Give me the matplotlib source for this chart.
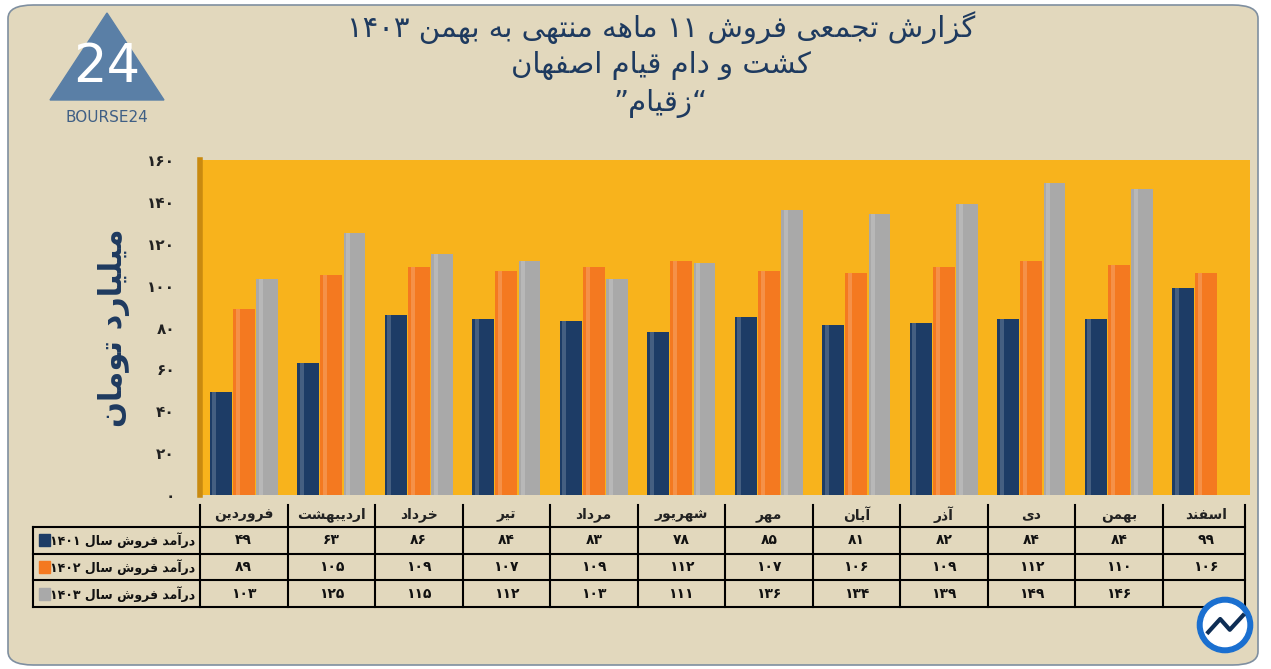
import matplotlib
matplotlib.use('Agg')
import matplotlib.pyplot as plt
from matplotlib.patches import FancyBboxPatch, Polygon, Circle, Rectangle

months = ['فروردین', 'اردیبهشت', 'خرداد', 'تیر', 'مرداد', 'شهریور',
          'مهر', 'آبان', 'آذر', 'دی', 'بهمن', 'اسفند']
sales_1401 = [49, 63, 86, 84, 83, 78, 85, 81, 82, 84, 84, 99]
sales_1402 = [89, 105, 109, 107, 109, 112, 107, 106, 109, 112, 110, 106]
sales_1403 = [103, 125, 115, 112, 103, 111, 136, 134, 139, 149, 146, None]
row_labels = ['درآمد فروش سال ۱۴۰۱', 'درآمد فروش سال ۱۴۰۲', 'درآمد فروش سال ۱۴۰۳']
y_ticks = [0, 20, 40, 60, 80, 100, 120, 140, 160]
title_lines = ['گزارش تجمعی فروش ۱۱ ماهه منتهی به بهمن ۱۴۰۳', 'کشت و دام قیام اصفهان', '“زقیام”']
y_label = 'میلیارد تومان'

# minimal arabic shaping: (isolated, final, initial, medial)
FORMS = {
    'ا': (0xFE8D, 0xFE8E), 'آ': (0xFE81, 0xFE82),
    'ب': (0xFE8F, 0xFE90, 0xFE91, 0xFE92), 'پ': (0xFB56, 0xFB57, 0xFB58, 0xFB59),
    'ت': (0xFE95, 0xFE96, 0xFE97, 0xFE98), 'ث': (0xFE99, 0xFE9A, 0xFE9B, 0xFE9C),
    'ج': (0xFE9D, 0xFE9E, 0xFE9F, 0xFEA0), 'چ': (0xFB7A, 0xFB7B, 0xFB7C, 0xFB7D),
    'ح': (0xFEA1, 0xFEA2, 0xFEA3, 0xFEA4), 'خ': (0xFEA5, 0xFEA6, 0xFEA7, 0xFEA8),
    'د': (0xFEA9, 0xFEAA), 'ذ': (0xFEAB, 0xFEAC), 'ر': (0xFEAD, 0xFEAE),
    'ز': (0xFEAF, 0xFEB0), 'ژ': (0xFB8A, 0xFB8B),
    'س': (0xFEB1, 0xFEB2, 0xFEB3, 0xFEB4), 'ش': (0xFEB5, 0xFEB6, 0xFEB7, 0xFEB8),
    'ص': (0xFEB9, 0xFEBA, 0xFEBB, 0xFEBC), 'ض': (0xFEBD, 0xFEBE, 0xFEBF, 0xFEC0),
    'ط': (0xFEC1, 0xFEC2, 0xFEC3, 0xFEC4), 'ظ': (0xFEC5, 0xFEC6, 0xFEC7, 0xFEC8),
    'ع': (0xFEC9, 0xFECA, 0xFECB, 0xFECC), 'غ': (0xFECD, 0xFECE, 0xFECF, 0xFED0),
    'ف': (0xFED1, 0xFED2, 0xFED3, 0xFED4), 'ق': (0xFED5, 0xFED6, 0xFED7, 0xFED8),
    'ک': (0xFB8E, 0xFB8F, 0xFB90, 0xFB91), 'گ': (0xFB92, 0xFB93, 0xFB94, 0xFB95),
    'ل': (0xFEDD, 0xFEDE, 0xFEDF, 0xFEE0), 'م': (0xFEE1, 0xFEE2, 0xFEE3, 0xFEE4),
    'ن': (0xFEE5, 0xFEE6, 0xFEE7, 0xFEE8), 'و': (0xFEED, 0xFEEE),
    'ه': (0xFEE9, 0xFEEA, 0xFEEB, 0xFEEC), 'ی': (0xFBFC, 0xFBFD, 0xFBFE, 0xFBFF),
}


def fa(text):
    out = []
    for i, c in enumerate(text):
        if c not in FORMS:
            out.append(c)
            continue
        prev = text[i - 1] if i > 0 else ''
        nxt = text[i + 1] if i + 1 < len(text) else ''
        pj = prev in FORMS and len(FORMS[prev]) == 4
        nj = len(FORMS[c]) == 4 and nxt in FORMS
        f = FORMS[c]
        if pj and nj:
            out.append(chr(f[3]))
        elif pj:
            out.append(chr(f[1]))
        elif nj:
            out.append(chr(f[2]))
        else:
            out.append(chr(f[0]))
    s = ''.join(out)[::-1]
    # keep digit runs left-to-right
    res, run = [], []
    for c in s:
        if c.isdigit():
            run.append(c)
        else:
            res.extend(run[::-1]); run = []
            res.append(c)
    res.extend(run[::-1])
    return ''.join(res)


def fdig(n):
    return str(n).translate(str.maketrans('0123456789', '۰۱۲۳۴۵۶۷۸۹'))


W, H = 1271, 669
fig = plt.figure(figsize=(W / 100, H / 100), dpi=100)
fig.patch.set_facecolor('white')
bg = FancyBboxPatch((8 / W, 4 / H), 1250 / W, 660 / H, boxstyle='round,pad=0,rounding_size=0.02',
                    transform=fig.transFigure, facecolor='#e2d8bd', edgecolor='#7f8fa0', lw=1.2,
                    zorder=-10)
fig.patches.append(bg)

navy, orange, grey = '#1d3c66', '#f47920', '#a9a9a9'
text_col = '#1e3a5f'

# title
for i, line in enumerate(title_lines):
    fig.text(0.52, 1 - (28 + i * 38) / H, fa(line), ha='center', va='center', fontsize=21,
             color=text_col, family='DejaVu Sans')

# logo
logo = fig.add_axes([40 / W, 1 - 130 / H, 135 / W, 125 / H])
logo.set_xlim(0, 135); logo.set_ylim(125, 0); logo.axis('off')
logo.add_patch(Polygon([[67, 8], [10, 95], [124, 95]], closed=True, color='#5a7fa6'))
logo.text(67, 62, '24', ha='center', va='center', fontsize=38, color='white')
logo.text(67, 112, 'BOURSE24', ha='center', va='center', fontsize=11, color='#3f5f85')

# chart
x0, x1, yb, yt = 200, 1250, 495, 160
ax = fig.add_axes([x0 / W, 1 - yb / H, (x1 - x0) / W, (yb - yt) / H])
ax.set_facecolor('#f8b31c')
ax.set_xlim(-0.5, len(months) - 0.5)
ax.set_ylim(0, 160)
bw = 0.25
series = [(sales_1401, navy, -0.265), (sales_1402, orange, 0.0), (sales_1403, grey, 0.265)]
for vals, col, off in series:
    xs = [i + off for i, v in enumerate(vals) if v is not None]
    vs = [v for v in vals if v is not None]
    ax.bar(xs, vs, width=bw, color=col, edgecolor='none', zorder=3)
    ax.bar([x - bw * 0.28 for x in xs], vs, width=bw * 0.18, color='white', alpha=0.18,
           edgecolor='none', zorder=4)
ax.set_xticks([])
ax.set_yticks(y_ticks)
ax.set_yticklabels([fdig(t) for t in y_ticks], fontsize=11, fontweight='bold', color='#222222')
ax.tick_params(axis='y', length=0, pad=18)
for s in ax.spines.values():
    s.set_visible(False)
ax.spines['left'].set_visible(True)
ax.spines['left'].set_color('#c98a10'); ax.spines['left'].set_linewidth(4)
ax.set_ylabel(fa(y_label), fontsize=22, fontweight='bold', color=text_col, labelpad=12)

# table
tax = fig.add_axes([x0 / W, 1 - 607 / H, (x1 - x0) / W, 107 / H])
tax.set_xlim(-0.5, len(months) - 0.5)
tax.set_ylim(4, 0)
tax.axis('off')
lx = -0.5 - 167 / ((x1 - x0) / len(months))
right = len(months) - 0.5 - 5 / ((x1 - x0) / len(months))
kw = dict(color='black', lw=1.5, clip_on=False)
for r in range(1, 5):
    tax.plot([lx, right], [r, r], **kw)
tax.plot([lx, lx], [1, 4], **kw)
for c in range(len(months) + 1):
    xc = min(c - 0.5, right)
    tax.plot([xc, xc], [0.2, 4], **kw)
for i, m in enumerate(months):
    tax.text(i, 0.55, fa(m), ha='center', va='center', fontsize=10, fontweight='bold', color='#222222')
rows = [sales_1401, sales_1402, sales_1403]
cols = [navy, orange, grey]
for r, (vals, lab, col) in enumerate(zip(rows, row_labels, cols)):
    y = r + 1.5
    tax.text(-0.55, y, fa(lab), ha='right', va='center', fontsize=9, fontweight='bold', color='#111111')
    tax.add_patch(Rectangle((lx + 0.07, y - 0.22), 0.12, 0.44, color=col, clip_on=False))
    for i, v in enumerate(vals):
        if v is not None:
            tax.text(i, y, fdig(v), ha='center', va='center', fontsize=10, fontweight='bold', color='#111111')

# corner icon
ic = fig.add_axes([1195 / W, 1 - 655 / H, 60 / W, 60 / H])
ic.set_xlim(0, 1); ic.set_ylim(0, 1); ic.axis('off'); ic.set_aspect('equal')
ic.add_patch(Circle((0.5, 0.5), 0.46, color='#1a6fd0'))
ic.add_patch(Circle((0.5, 0.5), 0.36, color='white'))
ic.plot([0.22, 0.42, 0.58, 0.8], [0.38, 0.6, 0.42, 0.66], color='#0d2d55', lw=3)

fig.savefig('out.png', dpi=100, facecolor=fig.get_facecolor())
